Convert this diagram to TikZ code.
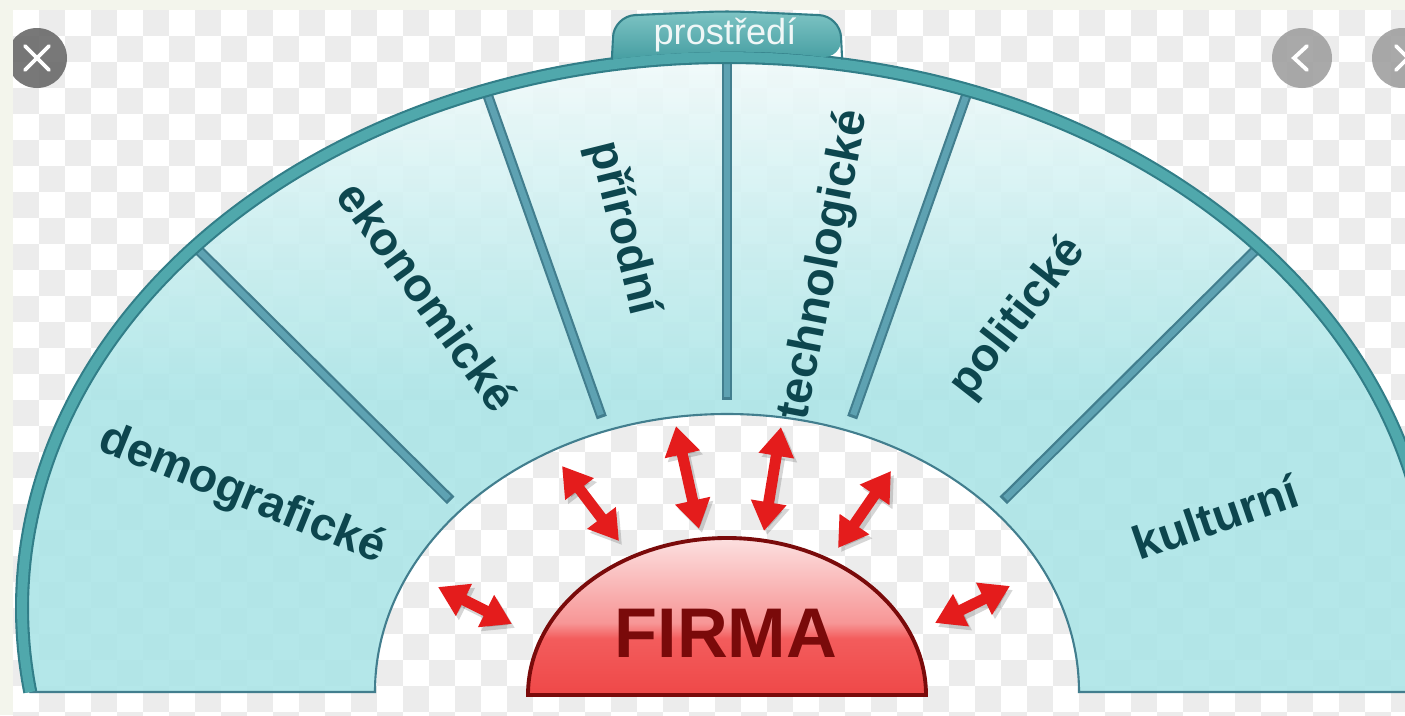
\documentclass[tikz,border=0pt]{standalone}
\usepackage{fontspec}
\setmainfont{Liberation Sans}
\usepackage{tikz}
\usetikzlibrary{arrows.meta}

\definecolor{paper}{RGB}{243,245,236}
\definecolor{checkgray}{RGB}{236,236,236}
\definecolor{frameteal}{RGB}{80,168,172}
\definecolor{framedark}{RGB}{50,126,136}
\definecolor{barteal}{RGB}{94,162,178}
\definecolor{segedge}{RGB}{66,126,142}
\definecolor{segbot}{RGB}{172,229,231}
\definecolor{segmid}{RGB}{206,240,241}
\definecolor{segtop}{RGB}{243,251,251}
\definecolor{labelteal}{RGB}{13,70,78}
\definecolor{tabbot}{RGB}{70,158,162}
\definecolor{tabtop}{RGB}{126,196,196}
\definecolor{domebot}{RGB}{239,72,72}
\definecolor{domemid}{RGB}{243,92,92}
\definecolor{domehi}{RGB}{247,150,150}
\definecolor{dometop}{RGB}{252,224,224}
\definecolor{firmadark}{RGB}{122,10,10}
\definecolor{arrowred}{RGB}{228,28,28}
\definecolor{btndark}{RGB}{106,106,106}
\definecolor{btnlight}{RGB}{160,160,160}

\pgfdeclareverticalshading{ringfill}{100bp}{color(0bp)=(segbot); color(48bp)=(segbot); color(62bp)=(segmid); color(75bp)=(segtop); color(100bp)=(segtop)}
\pgfdeclareverticalshading{domefill}{100bp}{color(0bp)=(domebot); color(25bp)=(domebot); color(43bp)=(domemid); color(48bp)=(domehi); color(75bp)=(dometop); color(100bp)=(dometop)}
\pgfdeclareverticalshading{tabfill}{100bp}{color(0bp)=(tabbot); color(25bp)=(tabbot); color(75bp)=(tabtop); color(100bp)=(tabtop)}

\begin{document}
\begin{tikzpicture}[
    seglabel/.style={text=labelteal, font=\fontsize{13.3}{15}\selectfont\bfseries, inner sep=0pt},
    firmalabel/.style={text=firmadark, font=\fontsize{20}{24}\selectfont\bfseries, inner sep=0pt},
    tablabel/.style={text=white!94!teal, font=\fontsize{10.3}{12}\selectfont, inner sep=0pt},
    ringedge/.style={draw=segedge, line width=0.6pt},
    divider/.style={draw=segedge, line width=3pt},
    dividercore/.style={draw=barteal, line width=1.8pt},
    frameedge/.style={draw=framedark, line width=4pt},
    framecore/.style={draw=frameteal, line width=2.8pt},
    twoway/.style={{Triangle[length=0.29cm,width=0.34cm]}-{Triangle[length=0.29cm,width=0.34cm]}, line width=0.11cm, draw=arrowred},
    twowayshadow/.style={twoway, draw=black, opacity=0.16},
    glyph/.style={draw=white, line width=1.1pt, line cap=round}
]
    \useasboundingbox (0,0) rectangle (14.05,7.15);
    \clip (0,0) rectangle (14.05,7.15);

    % Checkered backdrop
    \fill[white] (0,0) rectangle (14.05,7.15);
    \foreach \i in {0,...,53} {
        \foreach \j in {0,...,27} {
            \pgfmathtruncatemacro{\cellpar}{mod(\i+\j,2)}
            \ifnum\cellpar=1
                \fill[checkgray] ({0.13+0.26*\i},{7.05-0.26*\j}) rectangle ++(0.26,-0.26);
            \fi
        }
    }

    % Centres of the outer and inner arcs
    \coordinate (oc) at (7.27,1.07);
    \coordinate (ic) at (7.27,0.23);

    % Ring of segments
    \begin{scope}
        \clip ([shift={(oc)}]-8.77:7.05 and 5.51) arc[start angle=-8.77, end angle=188.77, x radius=7.05, y radius=5.51]
            -- ([shift={(ic)}]180:3.52 and 2.78) arc[start angle=180, end angle=0, x radius=3.52, y radius=2.78] -- cycle;
        \shade[shading=ringfill, opacity=0.9] (0,0.23) rectangle (14.05,6.65);
    \end{scope}
    \draw[ringedge] ([shift={(oc)}]-8.77:7.05 and 5.51) arc[start angle=-8.77, end angle=188.77, x radius=7.05, y radius=5.51]
        -- ([shift={(ic)}]180:3.52 and 2.78) arc[start angle=180, end angle=0, x radius=3.52, y radius=2.78] -- cycle;

    % Dividers between segments
    \foreach \a in {41,70,90,110,139} {
        \draw[divider] ([shift={(oc)}]\a:7.05 and 5.51) -- ([shift={(ic)}]\a:3.66 and 2.92);
        \draw[dividercore] ([shift={(oc)}]\a:7.05 and 5.51) -- ([shift={(ic)}]\a:3.69 and 2.95);
    }

    % Outer frame
    \draw[frameedge] ([shift={(oc)}]-8.77:7.05 and 5.51) arc[start angle=-8.77, end angle=188.77, x radius=7.05, y radius=5.51];
    \draw[framecore] ([shift={(oc)}]-8.77:7.05 and 5.51) arc[start angle=-8.77, end angle=188.77, x radius=7.05, y radius=5.51];

    % Tab on top
    \shade[shading=tabfill] ([shift={(oc)}]99.4:7.05 and 5.56) [rounded corners=6pt] -- (6.14,6.99) -- (7.27,7.04) -- (8.40,6.99)
        -- ([shift={(oc)}]80.6:7.05 and 5.56) [sharp corners] arc[start angle=80.6, end angle=99.4, x radius=7.05, y radius=5.56] -- cycle;
    \draw[framedark, line width=0.6pt] ([shift={(oc)}]99.4:7.05 and 5.56) [rounded corners=6pt] -- (6.14,6.99) -- (7.27,7.04) -- (8.40,6.99)
        -- ([shift={(oc)}]80.6:7.05 and 5.56);
    \node[tablabel] (env) at (7.25,6.80) {prostředí};

    % Segment labels
    \node[seglabel, rotate=-22] (demo) at (2.42,2.20) {demografické};
    \node[seglabel, rotate=-54] (ekon) at (4.28,4.19) {ekonomické};
    \node[seglabel, rotate=-76] (prir) at (6.23,4.87) {přírodní};
    \node[seglabel, rotate=79] (tech) at (8.25,4.50) {technologické};
    \node[seglabel, rotate=52] (poli) at (10.18,3.97) {politické};
    \node[seglabel, rotate=19] (kult) at (12.15,1.98) {kulturní};

    % Firm in the middle
    \shadedraw[shading=domefill, draw=firmadark, line width=1.1pt] (5.28,0.20) arc[start angle=180, end angle=0, x radius=1.99, y radius=1.57] -- cycle;
    \node[firmalabel] (firma) at (7.26,0.82) {FIRMA};

    % Two-way arrows
    \coordinate (a1s) at (4.38,1.28);  \coordinate (a1e) at (5.12,0.91);
    \coordinate (a2s) at (5.62,2.49);  \coordinate (a2e) at (6.19,1.74);
    \coordinate (a3s) at (6.76,2.89);  \coordinate (a3e) at (6.99,1.86);
    \coordinate (a4s) at (7.81,2.88);  \coordinate (a4e) at (7.64,1.84);
    \coordinate (a5s) at (8.91,2.44);  \coordinate (a5e) at (8.38,1.67);
    \coordinate (a6s) at (10.10,1.29); \coordinate (a6e) at (9.35,0.92);
    \foreach \s/\e in {a1s/a1e,a2s/a2e,a3s/a3e,a4s/a4e,a5s/a5e,a6s/a6e} {
        \draw[twowayshadow] ([shift={(0.03,-0.04)}]\s) -- ([shift={(0.03,-0.04)}]\e);
        \draw[twoway] (\s) -- (\e);
    }

    % Viewer buttons
    \fill[btndark, opacity=0.9] (0.37,6.57) circle (0.30);
    \draw[glyph] (0.25,6.45) -- (0.49,6.69) (0.25,6.69) -- (0.49,6.45);
    \fill[btnlight, opacity=0.9] (13.02,6.57) circle (0.30);
    \draw[glyph] (13.07,6.69) -- (12.94,6.57) -- (13.07,6.45);
    \fill[btnlight, opacity=0.9] (14.02,6.57) circle (0.30);
    \draw[glyph] (13.96,6.69) -- (14.08,6.57) -- (13.96,6.45);

    % Page margins
    \fill[paper] (0,0) rectangle (0.13,7.15);
    \fill[paper] (0,7.05) rectangle (14.05,7.15);
\end{tikzpicture}
\end{document}
